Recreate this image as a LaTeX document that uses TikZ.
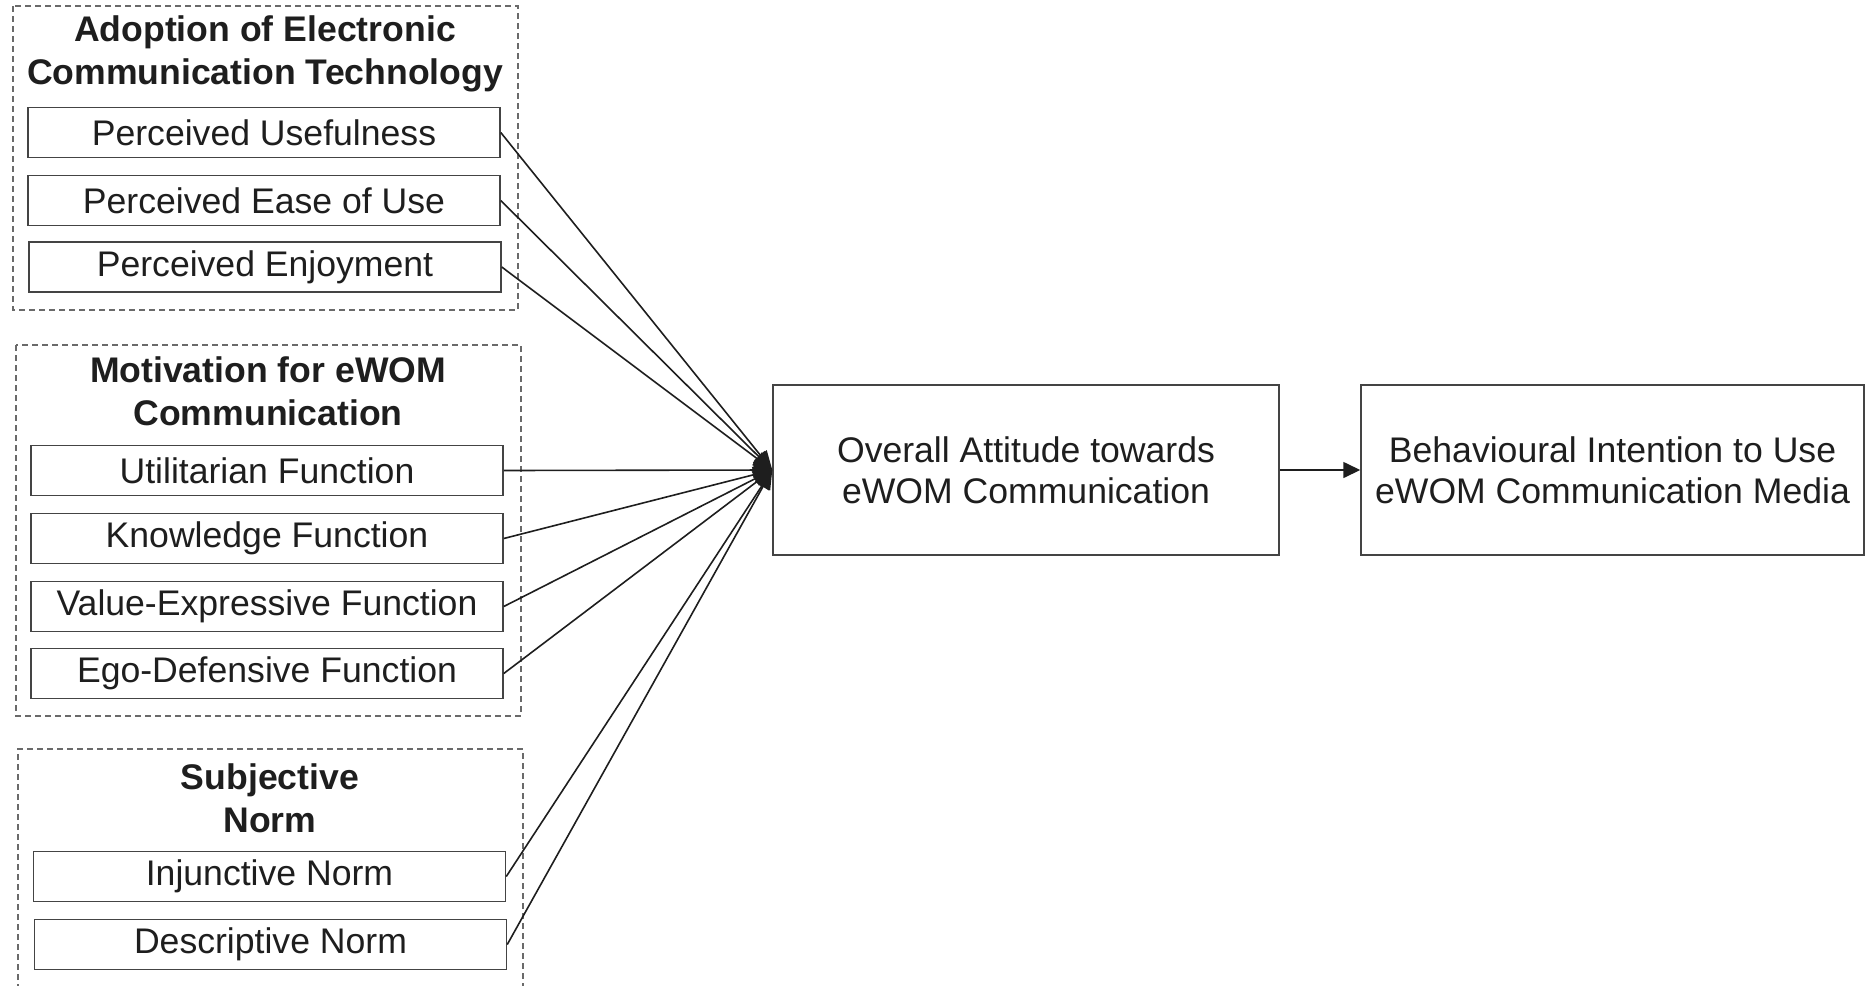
\documentclass[tikz,border=0pt]{standalone}
\usepackage{fontspec}
\setmainfont{Liberation Sans}
\usetikzlibrary{arrows.meta}
\definecolor{ink}{HTML}{1E1E1E}
\definecolor{edge}{HTML}{444444}
\definecolor{dash}{HTML}{6A6A6A}
\tikzset{
  item/.style={draw=edge, line width=0.75pt, minimum width=236pt, minimum height=25pt,
    inner sep=0pt, text=ink, font=\fontsize{17.8}{21}\selectfont},
  bigbox/.style={draw=edge, line width=0.75pt, minimum height=85pt,
    inner sep=0pt, text=ink, align=center, font=\fontsize{17.8}{20.5}\selectfont},
  grouptitle/.style={inner sep=0pt, text=ink, align=center, font=\bfseries\fontsize{17.8}{21.5}\selectfont},
  groupbox/.style={draw=dash, line width=0.6pt, dash pattern=on 3pt off 2pt},
  link/.style={draw=ink, line width=0.8pt, -{Triangle[length=9.5pt,width=8pt]}},
  mainlink/.style={draw=ink, line width=0.8pt, -{Triangle[length=8.5pt,width=8pt]}}
}
\begin{document}
\begin{tikzpicture}[x=0.5pt,y=-0.5pt]
\useasboundingbox (0,0) rectangle (1871,985);
% group frames
\draw[groupbox] (13,6) rectangle (518,310);
\draw[groupbox] (16,345) rectangle (521,716);
\draw[groupbox] (18,1000) -- (18,749) -- (523,749) -- (523,1000);
% group titles
\node[grouptitle] (t1) at (265,53.5) {Adoption of Electronic\\Communication Technology};
\node[grouptitle] (t2) at (268,391.5) {Motivation for eWOM\\Communication};
\node[grouptitle] (t3) at (270,798.5) {Subjective\\Norm};
% items
\node[item] (pu)  at (264,132.5) {Perceived Usefulness};
\node[item] (peu) at (264,200.5) {Perceived Ease of Use};
\node[item] (pe)  at (265,267)   {Perceived Enjoyment};
\node[item] (uf)  at (267,470.5) {Utilitarian Function};
\node[item] (kf)  at (267,538.5) {Knowledge Function};
\node[item] (vf)  at (267,606.5) {Value-Expressive Function};
\node[item] (ef)  at (267,673.5) {Ego-Defensive Function};
\node[item] (in)  at (269.5,876.5) {Injunctive Norm};
\node[item] (dn)  at (270.5,944.5) {Descriptive Norm};
% main boxes
\node[bigbox, minimum width=253pt] (oa) at (1026,470) {Overall Attitude towards\\eWOM Communication};
\node[bigbox, minimum width=251.5pt] (bi) at (1612.5,470) {Behavioural Intention to Use\\eWOM Communication Media};
% connectors
\foreach \n in {pu,peu,pe,uf,kf,vf,ef,in,dn}
  \draw[link] (\n.east) -- (oa.west);
\draw[mainlink] (oa.east) -- (bi.west);
\end{tikzpicture}
\end{document}
